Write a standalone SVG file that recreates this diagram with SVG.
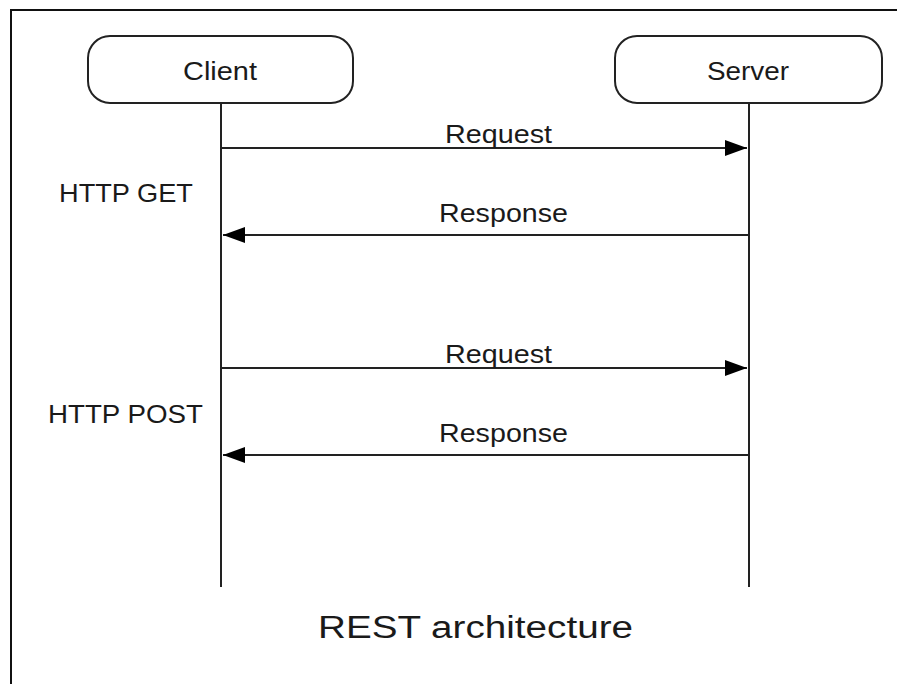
<svg xmlns="http://www.w3.org/2000/svg" width="897" height="684" viewBox="0 0 897 684">
<style>
.t{font-family:"Liberation Sans",Arial,sans-serif;fill:#1a1a1a;}
.box{fill:#fff;stroke:#222;stroke-width:2;}
.life{stroke:#222;stroke-width:2;fill:none;}
.msg{stroke:#222;stroke-width:2;fill:none;}
.frame{stroke:#111;stroke-width:2;fill:none;}
</style>
<defs>
<marker id="ah" markerWidth="22" markerHeight="16" refX="22" refY="8" orient="auto" markerUnits="userSpaceOnUse">
<path d="M0,0 L22,8 L0,16 Z" fill="#000"/>
</marker>
</defs>
<rect width="897" height="684" fill="#fff"/>
<path class="frame" d="M11,684 L11,10 L897,10"/>
<g id="client">
<rect class="box" x="88" y="36" width="265" height="67" rx="22"/>
<text class="t" x="220" y="80" font-size="26" text-anchor="middle" textLength="74" lengthAdjust="spacingAndGlyphs">Client</text>
</g>
<g id="server">
<rect class="box" x="615" y="36" width="267" height="67" rx="22"/>
<text class="t" x="748" y="80" font-size="26" text-anchor="middle" textLength="82" lengthAdjust="spacingAndGlyphs">Server</text>
</g>
<g id="label-get">
<text class="t" x="59" y="202" font-size="26" textLength="134" lengthAdjust="spacingAndGlyphs">HTTP GET</text>
</g>
<g id="label-post">
<text class="t" x="48" y="423" font-size="26" textLength="155" lengthAdjust="spacingAndGlyphs">HTTP POST</text>
</g>
<g id="connectors">
<line class="life" x1="221" y1="103" x2="221" y2="587"/>
<line class="life" x1="749" y1="103" x2="749" y2="587"/>
<line class="msg" x1="221" y1="148" x2="747" y2="148" marker-end="url(#ah)"/>
<line class="msg" x1="749" y1="235" x2="223" y2="235" marker-end="url(#ah)"/>
<line class="msg" x1="221" y1="368" x2="747" y2="368" marker-end="url(#ah)"/>
<line class="msg" x1="749" y1="455" x2="223" y2="455" marker-end="url(#ah)"/>
<text class="t" x="445" y="143" font-size="26" textLength="107" lengthAdjust="spacingAndGlyphs">Request</text>
<text class="t" x="439" y="222" font-size="26" textLength="129" lengthAdjust="spacingAndGlyphs">Response</text>
<text class="t" x="445" y="363" font-size="26" textLength="107" lengthAdjust="spacingAndGlyphs">Request</text>
<text class="t" x="439" y="442" font-size="26" textLength="129" lengthAdjust="spacingAndGlyphs">Response</text>
</g>
<g id="title">
<text class="t" x="318" y="638" font-size="31" textLength="315" lengthAdjust="spacingAndGlyphs">REST architecture</text>
</g>
</svg>
